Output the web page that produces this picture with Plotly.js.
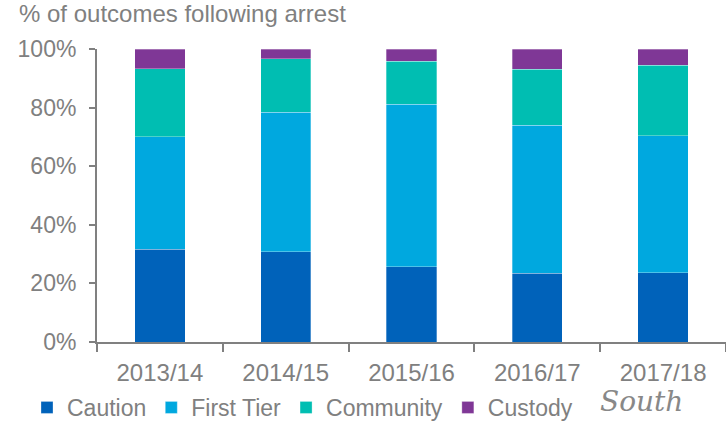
<!DOCTYPE html>
<html><head><meta charset="utf-8">
<script src="https://cdn.plot.ly/plotly-3.0.1.min.js"></script>
<style>html,body{margin:0;padding:0;background:#fff;}#chart{width:726px;height:421px;}</style>
</head><body><div id="chart"></div>
<script>
const years = ["2013/14","2014/15","2015/16","2016/17","2017/18"];
const caution = [31.6, 30.8, 25.7, 23.4, 23.7];
const firstTier = [38.4, 47.6, 55.4, 50.6, 46.7];
const community = [23.2, 18.2, 14.8, 19.1, 24.1];
const custody = [6.8, 3.4, 4.1, 6.9, 5.5];
const seriesNames = ["Caution","First Tier","Community","Custody"];
const seriesColors = ["#0062BA","#00A8DF","#00BEB2","#7F3796"];
const seriesValues = [caution, firstTier, community, custody];

const FONT = "Liberation Sans, Arial, sans-serif";
const GREY = "#808080";

const traces = seriesValues.map((v,i)=>({
  type:"bar", x:years, y:v, name:seriesNames[i],
  marker:{color:seriesColors[i], line:{color:"rgba(255,255,255,0.5)", width:0.6}},
  width:0.4, hoverinfo:"skip"
}));

const layout = {
  width:726, height:421,
  margin:{l:97, r:0, t:49, b:79},
  barmode:"stack",
  paper_bgcolor:"#fff", plot_bgcolor:"#fff",
  font:{family:FONT, color:GREY, size:24},
  title:{text:"% of outcomes following arrest", xref:"container", yref:"container",
    x:19/726, xanchor:"left", y:1-5/421, yanchor:"top",
    font:{family:FONT, size:24, color:GREY}},
  xaxis:{type:"category", showgrid:false, zeroline:false, showline:true,
    linecolor:GREY, linewidth:2, ticks:"outside", ticklen:8, tickwidth:2, tickcolor:GREY,
    tickson:"boundaries", range:[-0.5,4.5], ticklabelstandoff:8,
    tickfont:{family:FONT, size:24, color:GREY}},
  yaxis:{range:[0,100], tickvals:[0,20,40,60,80,100], ticktext:["0%","20%","40%","60%","80%","100%"],
    showgrid:false, zeroline:false, showline:true, linecolor:GREY, linewidth:2,
    ticks:"outside", ticklen:6, tickwidth:2, tickcolor:GREY, ticklabelstandoff:8,
    tickfont:{family:FONT, size:23, color:GREY}},
  legend:{orientation:"h", xref:"container", yref:"container", x:27/726, xanchor:"left",
    y:1-386/421, yanchor:"top", font:{family:FONT, size:23, color:GREY},
    itemwidth:30, traceorder:"normal", tracegroupgap:0, bgcolor:"rgba(0,0,0,0)"},
  showlegend:true,
  annotations:[{xref:"paper", yref:"paper", x:(598-97)/629, y:(342-420)/293, xanchor:"left", yanchor:"bottom",
    text:"<i>South</i>", showarrow:false,
    font:{family:"DejaVu Serif, serif", size:28, color:"#888"}}]
};

Plotly.newPlot("chart", traces, layout, {displayModeBar:false, staticPlot:true});
</script></body></html>
